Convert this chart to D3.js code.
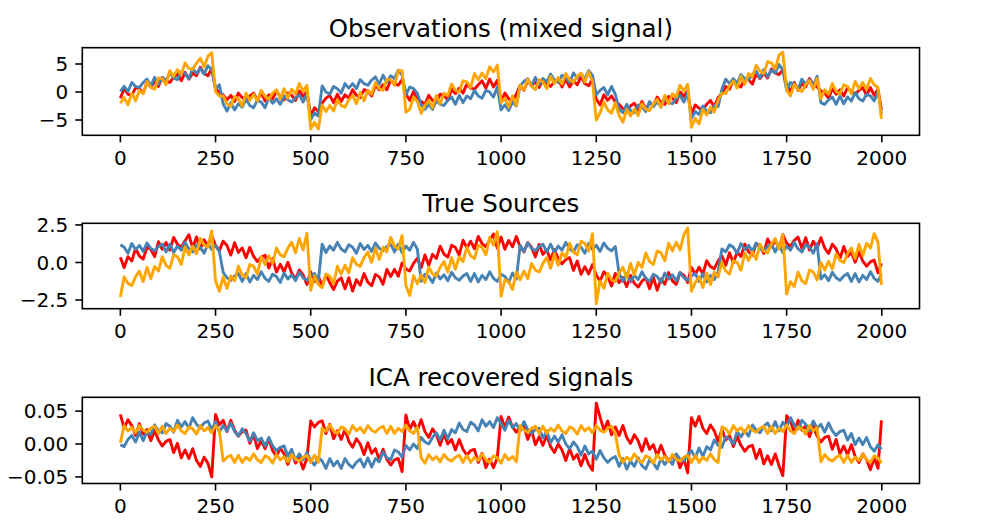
<!DOCTYPE html>
<html>
<head>
<meta charset="utf-8">
<script src="https://cdn.jsdelivr.net/npm/d3@7"></script>
<style>
  body { margin: 0; background: #fff; }
  svg text { font-family: "DejaVu Sans", sans-serif; fill: #000; }
</style>
</head>
<body>
<svg id="chart" width="1002" height="525"></svg>
<script>
// sample index of every stored point (one value per 10 samples, last one is 1999)
const sampleIndex = d3.range(0, 2000, 10).concat([1999]);
const xTicks = [0, 250, 500, 750, 1000, 1250, 1500, 1750, 2000];
const seriesColors = ["red", "steelblue", "orange"];
const panelTitles = ["Observations (mixed signal)", "True Sources", "ICA recovered signals"];

// Observations (mixed signal)
const obsRed = [
  -1.1, 0.6, -0.4, -0.6, 0.8, 0.6, -0.2, 1.7, 0.9, 1.9,
  1.0, 2.6, 2.0, 1.7, 2.6, 3.2, 2.0, 3.5, 2.3, 3.4,
  2.9, 4.4, 3.3, 2.9, 4.2, 0.7, -0.2, -0.5, -1.4, -0.6,
  -1.7, -0.2, -1.0, -1.4, -0.7, -0.2, -1.5, -0.1, -1.6, -0.5,
  -1.2, 0.2, -0.9, -1.4, -0.2, -0.6, -1.5, 0.2, -0.8, 0.0,
  -4.3, -2.8, -3.5, -2.0, -1.1, -0.6, -1.9, -0.4, -1.7, -0.5,
  -1.1, 0.4, -0.6, -1.0, 0.4, 0.2, -0.7, 1.2, 0.4, 1.3,
  0.4, 2.1, 1.5, 1.2, 2.2, -0.3, -1.5, 0.1, -1.1, -1.7,
  -2.2, -0.6, -1.5, -1.8, -0.4, -0.6, -1.4, 0.5, -0.3, 0.7,
  -0.2, 1.4, 0.7, 0.5, 1.3, 2.0, 0.7, 2.3, 0.9, 2.1,
  -1.7, -0.2, -1.2, -1.7, -0.4, 1.2, 0.3, 2.0, 1.1, 1.8,
  0.8, 2.3, 1.5, 1.0, 1.8, 2.3, 0.9, 2.3, 0.9, 2.0,
  1.3, 2.7, 1.5, 1.1, 2.3, -1.3, -2.3, -0.5, -1.5, -0.7,
  -1.8, -2.2, -3.0, -3.3, -2.5, -2.0, -3.2, -1.7, -3.1, -1.9,
  -2.4, -0.9, -1.9, -2.2, -0.8, -1.1, -1.9, 0.0, -0.8, 0.1,
  -4.0, -2.3, -2.9, -3.1, -2.2, -1.5, -2.7, -1.0, -0.3, 1.0,
  0.5, 2.2, 1.2, 0.9, 2.4, 2.2, 1.4, 3.3, 2.4, 3.4,
  2.5, 4.1, 3.4, 3.1, 4.0, 1.4, 0.1, 1.7, 0.3, 1.5,
  0.9, 2.4, 1.3, 0.9, 0.2, -0.2, -1.1, 0.6, -0.4, 0.4,
  -0.7, 0.8, 0.0, -0.4, 0.3, 0.8, -0.6, 0.8, -0.6, 0.5,
  -3.2
];
const obsBlue = [
  0.1, 1.0, 0.1, 1.7, 1.0, 0.8, 1.7, 2.3, 1.1, 2.6,
  1.4, 2.6, 2.0, 3.5, 2.5, 2.2, 3.6, 3.3, 2.4, 4.2,
  3.3, 4.2, 3.2, 4.7, 4.0, 0.5, 1.3, -2.1, -3.4, -1.9,
  -3.2, -2.1, -2.7, -1.3, -2.4, -2.8, -1.5, -1.8, -2.8, -1.0,
  -2.0, -1.2, -2.2, -0.7, -1.4, -1.8, -1.0, -0.5, -1.8, -0.3,
  -4.9, -3.7, -4.3, 1.1, 0.0, -0.4, 1.0, 0.6, -0.2, 1.5,
  0.7, 1.5, 0.6, 2.2, 1.5, 1.2, 2.1, 2.7, 1.4, 3.0,
  1.7, 2.9, 2.4, 3.9, 3.0, -0.5, 0.9, 0.6, -0.2, -2.3,
  -3.1, -2.2, -3.1, -1.5, -2.2, -2.4, -1.5, -0.9, -2.2, -0.6,
  -1.9, -0.7, -1.2, 0.3, -0.7, -1.1, 0.3, 0.0, -0.9, 0.9,
  -3.2, -2.3, -3.3, -1.8, -2.5, 1.1, 1.9, 2.4, 1.1, 2.6,
  1.3, 2.4, 1.8, 3.2, 2.1, 1.7, 3.0, 2.6, 1.7, 3.4,
  2.5, 3.3, 2.3, 3.8, 3.0, -0.5, 0.3, 0.8, -0.5, 1.0,
  -0.4, -3.1, -3.7, -2.2, -3.3, -3.7, -2.3, -2.6, -3.5, -1.7,
  -2.6, -1.7, -2.7, -1.1, -1.8, -2.1, -1.2, -0.6, -1.8, -0.2,
  -4.7, -3.5, -4.0, -2.5, -3.4, -3.7, -2.4, -2.6, 0.5, 2.3,
  1.5, 2.4, 1.5, 3.1, 2.4, 2.2, 3.1, 3.7, 2.5, 4.0,
  2.7, 3.9, 3.4, 4.9, 3.9, 0.3, 1.7, 1.4, 0.5, 2.3,
  1.4, 2.2, 1.2, 2.8, -1.9, -2.2, -1.4, -0.9, -2.2, -0.7,
  -2.1, -0.9, -1.6, -0.1, -1.2, -1.6, -0.4, -0.7, -1.6, 0.1,
  -3.9
];
const obsOrange = [
  -2.0, -1.0, -2.3, -0.2, -1.6, 0.3, -0.3, 1.9, 0.8, 0.5,
  2.5, 2.4, 1.3, 3.8, 2.8, 4.0, 3.1, 5.2, 4.2, 4.0,
  5.2, 6.0, 4.5, 6.4, 7.0, 0.1, -0.7, -0.7, -2.1, -2.6,
  -0.8, -1.2, -2.5, -0.2, -1.5, -0.4, -1.6, 0.3, -0.8, -1.3,
  -0.2, 0.4, -1.2, 0.6, -1.1, 0.5, -0.4, 1.5, 0.1, 1.2,
  -6.6, -5.4, -6.6, -2.3, -3.5, -2.4, -3.4, -1.4, -2.4, -2.7,
  -1.4, -0.6, -2.1, -0.1, -1.6, 0.3, -0.4, 1.7, 0.6, 0.3,
  2.3, 2.2, 1.2, 3.8, 3.8, -3.6, -3.1, -0.9, -1.7, -3.8,
  -2.4, -1.5, -2.8, -0.6, -2.1, -0.2, -0.7, 1.4, 0.3, 0.0,
  2.0, 1.8, 0.8, 3.3, 2.2, 3.4, 2.4, 4.5, 3.6, 4.8,
  -1.9, -1.1, -2.7, -0.7, -2.4, 1.2, 0.4, 2.3, 1.0, 0.4,
  2.2, 1.8, 0.6, 2.8, 1.5, 2.6, 1.4, 3.3, 2.2, 1.7,
  2.8, 3.4, 1.8, 3.6, 1.9, -5.0, -3.7, -1.8, -3.2, -3.8,
  -1.9, -4.2, -5.4, -3.1, -4.3, -3.1, -4.2, -2.1, -3.1, -3.3,
  -2.1, -1.3, -2.7, -0.6, -2.1, -0.3, -0.9, 1.2, 0.1, 1.4,
  -6.3, -4.7, -5.7, -3.1, -4.1, -2.7, -3.6, -1.4, -0.2, -0.3,
  1.1, 2.0, 0.7, 2.8, 1.4, 3.3, 2.7, 4.8, 3.7, 3.3,
  5.4, 5.2, 4.1, 6.6, 7.1, 0.3, -0.7, 1.4, 0.4, 0.1,
  1.3, 2.0, 0.5, 2.4, -1.2, 0.4, -0.4, 1.5, 0.1, -0.4,
  1.3, 1.0, -0.3, 1.9, 0.6, 1.7, 0.5, 2.4, 1.3, 0.8,
  -4.8
];

// True Sources
const srcRed = [
  0.34, -0.34, 0.39, 0.10, 0.94, 0.42, 0.23, 1.01, 0.87, 0.39,
  1.38, 0.88, 1.33, 0.83, 1.67, 1.21, 1.01, 1.44, 1.85, 0.96,
  1.70, 0.90, 1.51, 1.09, 1.79, 1.13, 0.79, 1.42, 1.13, 0.49,
  1.32, 0.67, 0.97, 0.31, 1.01, 0.40, 0.06, 0.35, 0.48, -0.37,
  0.26, -0.64, -0.12, -0.62, 0.01, -0.71, -1.10, -0.50, -0.82, -1.47,
  -0.63, -1.27, -0.94, -1.55, -0.81, -1.35, -1.80, -1.24, -1.02, -1.76,
  -1.01, -1.90, -1.15, -1.51, -0.74, -1.31, -1.55, -0.80, -0.96, -1.45,
  -0.46, -0.94, -0.46, -0.92, -0.03, -0.44, -0.56, -0.06, 0.28, -0.35,
  0.50, -0.18, 0.54, 0.26, 1.09, 0.56, 0.36, 1.14, 0.99, 0.50,
  1.48, 0.97, 1.42, 0.91, 1.73, 1.26, 1.05, 1.46, 1.90, 0.96,
  1.69, 0.88, 1.47, 1.04, 1.73, 1.05, 0.70, 1.32, 1.02, 0.37,
  1.20, 0.54, 0.83, 0.17, 0.86, 0.24, -0.09, 0.20, 0.32, -0.53,
  0.10, -0.79, -0.28, -0.77, -0.14, -0.85, -1.23, -0.62, -0.93, -1.57,
  -0.73, -1.35, -1.01, -1.61, -0.86, -1.39, -1.64, -1.25, -1.02, -1.75,
  -0.99, -1.85, -1.10, -1.45, -0.67, -1.23, -1.46, -0.69, -0.85, -1.33,
  -0.33, -0.80, -0.32, -0.77, 0.12, -0.28, -0.41, 0.10, 0.44, -0.19,
  0.65, -0.03, 0.69, 0.40, 1.22, 0.70, 0.49, 1.26, 1.10, 0.60,
  1.57, 1.05, 1.48, 0.96, 1.85, 1.29, 1.07, 1.47, 1.69, 0.94,
  1.65, 0.83, 1.41, 0.97, 1.65, 0.96, 0.60, 1.22, 0.90, 0.25,
  1.06, 0.40, 0.68, 0.02, 0.70, 0.09, -0.25, 0.04, 0.16, -0.69,
  -0.05
];
const srcBlue = [
  1.18, 1.02, 0.62, 1.26, 0.86, 1.14, 0.74, 1.30, 0.94, 0.78,
  1.06, 1.22, 0.70, 1.22, 0.66, 1.10, 0.82, 1.34, 0.90, 0.70,
  1.18, 1.02, 0.62, 1.26, 0.86, 1.14, 0.74,
  -0.66, -1.02, -1.18, -0.90, -0.74, -1.26, -0.74, -1.30, -0.86, -1.14,
  -0.62, -1.06, -1.26, -0.78, -0.94, -1.34, -0.70, -1.10, -0.82, -1.22,
  -0.66, -1.02, -1.18, -0.90, -0.74, -1.26,
  1.22, 0.66, 1.10, 0.82, 1.34, 0.90, 0.70, 1.18, 1.02, 0.62,
  1.26, 0.86, 1.14, 0.74, 1.30, 0.94, 0.78, 1.06, 1.22, 0.70,
  1.22, 0.66, 1.10, 0.82, 1.34, 0.90,
  -1.26, -0.78, -0.94, -1.34, -0.70, -1.10, -0.82, -1.22, -0.66, -1.02,
  -1.18, -0.90, -0.74, -1.26, -0.74, -1.30, -0.86, -1.14, -0.62, -1.06,
  -1.26, -0.78, -0.94, -1.34, -0.70, -1.10,
  1.14, 0.74, 1.30, 0.94, 0.78, 1.06, 1.22, 0.70, 1.22, 0.66,
  1.10, 0.82, 1.34, 0.90, 0.70, 1.18, 1.02, 0.62, 1.26, 0.86,
  1.14, 0.74, 1.30, 0.94, 0.78, 1.06,
  -0.74, -1.26, -0.74, -1.30, -0.86, -1.14, -0.62, -1.06, -1.26, -0.78,
  -0.94, -1.34, -0.70, -1.10, -0.82, -1.22, -0.66, -1.02, -1.18, -0.90,
  -0.74, -1.26, -0.74, -1.30, -0.86, -1.14, -0.62,
  0.90, 0.70, 1.18, 1.02, 0.62, 1.26, 0.86, 1.14, 0.74, 1.30,
  0.94, 0.78, 1.06, 1.22, 0.70, 1.22, 0.66, 1.10, 0.82, 1.34,
  0.90, 0.70, 1.18, 1.02, 0.62, 1.26,
  -1.10, -0.82, -1.22, -0.66, -1.02, -1.18, -0.90, -0.74, -1.26, -0.74,
  -1.30, -0.86, -1.14, -0.62, -1.06, -1.26, -0.78
];
const srcOrange = [
  -2.30, -0.96, -1.40, -1.54, -0.96, -0.58, -1.28, -0.32, -1.09, -0.26,
  -0.58, 0.39, -0.19, -0.39, 0.51, 0.38, -0.13, 1.03, 0.51, 1.09,
  0.58, 1.60, 1.16, 1.02, 2.10, -1.22, -1.92, -0.96, -1.73, -0.90,
  -1.22, -0.25, -0.83, -1.03, -0.13, -0.26, -0.77, 0.39, -0.13, 0.45,
  -0.06, 0.96, 0.52, 0.38, 0.96, 1.34, 0.64, 1.60, 0.83, 1.95,
  -1.86, -0.89, -1.47, -1.67, -0.77, -0.90, -1.41, -0.25, -0.77, -0.19,
  -0.70, 0.32, -0.12, -0.26, 0.32, 0.70, 0.00, 0.96, 0.19, 1.02,
  0.70, 1.67, 1.09, 0.89, 1.79, -1.54, -2.20, -0.89, -1.41, -0.83,
  -1.34, -0.32, -0.76, -0.90, -0.32, 0.06, -0.64, 0.32, -0.45, 0.38,
  0.06, 1.03, 0.45, 0.25, 1.15, 1.02, 0.51, 1.67, 1.15, 2.05,
  -2.25, -1.15, -1.28, -1.80, -0.64, -1.15, -0.57, -1.08, -0.07, -0.51,
  -0.64, -0.06, 0.32, -0.39, 0.57, -0.19, 0.64, 0.32, 1.28, 0.70,
  0.51, 1.41, 1.28, 0.76, 1.92, -2.75, -1.21, -1.72, -0.71, -1.15,
  -1.28, -0.70, -0.32, -1.03, -0.07, -0.83, 0.00, -0.32, 0.64, 0.06,
  -0.13, 0.77, 0.64, 0.12, 1.28, 0.77, 1.35, 0.84, 1.85, 2.30,
  -1.92, -1.34, -0.96, -1.67, -0.71, -1.47, -0.64, -0.96, 0.00, -0.58,
  -0.77, 0.13, 0.00, -0.52, 0.64, 0.13, 0.71, 0.20, 1.21, 0.77,
  0.64, 1.22, 1.60, 0.89, 1.85, -2.11, -1.28, -1.60, -0.64, -1.22,
  -1.41, -0.51, -0.64, -1.16, 0.00, -0.51, 0.07, -0.44, 0.57, 0.13,
  0.00, 0.58, 0.96, 0.25, 1.21, 0.45, 1.28, 0.96, 1.92, 1.34,
  -1.50
];

// ICA recovered signals
const icaRed = [
  0.045, 0.024, 0.037, 0.028, 0.013, 0.031, 0.015, 0.022, 0.005, 0.021,
  0.006, -0.003, 0.004, 0.007, -0.013, 0.001, -0.021, -0.009, -0.022, -0.007,
  -0.025, -0.034, -0.020, -0.029, -0.050, 0.045, 0.029, 0.036, 0.019, 0.036,
  0.021, 0.012, 0.019, 0.021, 0.001, 0.015, -0.007, 0.005, -0.007, 0.008,
  -0.010, -0.019, -0.006, -0.015, -0.031, -0.013, -0.029, -0.021, -0.038, -0.022,
  0.035, 0.026, 0.033, 0.035, 0.016, 0.030, 0.008, 0.020, 0.007, 0.022,
  0.004, -0.005, 0.008, 0.000, -0.016, 0.002, -0.014, -0.007, -0.024, -0.008,
  -0.023, -0.032, -0.024, -0.022, -0.042, 0.044, 0.022, 0.034, 0.021, 0.037,
  0.019, 0.010, 0.023, 0.014, -0.002, 0.016, 0.000, 0.007, -0.009, 0.007,
  -0.008, -0.017, -0.010, -0.008, -0.028, -0.014, -0.036, -0.023, -0.036, -0.021,
  0.042, 0.025, 0.041, 0.026, 0.018, 0.025, 0.027, 0.007, 0.021, -0.001,
  0.011, -0.002, 0.013, -0.004, -0.013, 0.000, -0.009, -0.025, -0.007, -0.023,
  -0.016, -0.033, -0.016, -0.031, -0.040, 0.062, 0.041, 0.021, 0.035, 0.014,
  0.026, 0.013, 0.028, 0.010, 0.001, 0.014, 0.005, -0.011, 0.008, -0.008,
  -0.001, -0.018, -0.002, -0.017, -0.026, -0.019, -0.017, -0.036, -0.022, -0.044,
  0.040, 0.027, 0.042, 0.024, 0.016, 0.029, 0.020, 0.004, 0.022, 0.006,
  0.013, -0.004, 0.012, -0.002, -0.011, -0.004, -0.002, -0.022, -0.008, -0.030,
  -0.018, -0.031, -0.015, -0.033, -0.048, 0.043, 0.034, 0.018, 0.036, 0.021,
  0.028, 0.011, 0.027, 0.012, 0.003, 0.010, 0.012, -0.008, 0.007, -0.015,
  -0.003, -0.016, -0.001, -0.019, -0.028, -0.015, -0.024, -0.039, -0.021, -0.037,
  0.036
];
const icaBlue = [
  -0.001, -0.004, 0.007, 0.013, 0.003, 0.018, 0.005, 0.019, 0.014, 0.029,
  0.020, 0.017, 0.031, 0.027, 0.018, 0.036, 0.026, 0.034, 0.024, 0.040,
  0.030, 0.024, 0.032, 0.035, 0.022, 0.034, 0.018, 0.028, 0.020, 0.032,
  0.019, 0.012, 0.023, 0.016, 0.004, 0.017, 0.005, 0.009, -0.003, 0.010,
  -0.003, -0.010, -0.005, -0.003, -0.018, -0.008, -0.025, -0.015, -0.024, -0.013,
  -0.025, -0.032, -0.020, -0.026, -0.037, -0.022, -0.033, -0.026, -0.037, -0.022,
  -0.031, -0.036, -0.028, -0.023, -0.035, -0.021, -0.035, -0.022, -0.027, -0.012,
  -0.021, -0.024, -0.009, -0.012, -0.020, -0.002, -0.009, 0.000, -0.007, 0.010,
  0.003, 0.000, 0.010, 0.017, 0.006, 0.021, 0.008, 0.022, 0.017, 0.032,
  0.022, 0.019, 0.033, 0.029, 0.020, 0.037, 0.027, 0.034, 0.025, 0.040,
  0.031, 0.021, 0.036, 0.025, 0.031, 0.020, 0.034, 0.022, 0.016, 0.022,
  0.024, 0.009, 0.020, 0.002, 0.012, 0.003, 0.014, 0.000, -0.007, 0.003,
  -0.004, -0.017, -0.003, -0.015, -0.011, -0.023, -0.010, -0.021, -0.028, -0.022,
  -0.019, -0.034, -0.022, -0.038, -0.026, -0.034, -0.021, -0.033, -0.038, -0.024,
  -0.029, -0.038, -0.022, -0.031, -0.023, -0.031, -0.015, -0.023, -0.026, -0.016,
  -0.010, -0.021, -0.006, -0.019, -0.004, -0.009, 0.006, -0.002, -0.005, 0.011,
  0.008, 0.000, 0.019, 0.011, 0.020, 0.012, 0.029, 0.021, 0.017, 0.027,
  0.032, 0.020, 0.034, 0.020, 0.033, 0.026, 0.040, 0.029, 0.023, 0.036,
  0.030, 0.020, 0.035, 0.024, 0.030, 0.018, 0.032, 0.020, 0.013, 0.019,
  0.021, 0.006, 0.016, -0.001, 0.009, -0.001, 0.010, -0.004, -0.011, -0.001,
  -0.008
];
const icaOrange = [
  0.002, 0.028, 0.020, 0.025, 0.017, 0.028, 0.021, 0.018, 0.024, 0.027,
  0.016, 0.027, 0.016, 0.024, 0.019, 0.029, 0.020, 0.016, 0.026, 0.023,
  0.015, 0.028, 0.020, 0.025, 0.017, 0.028, 0.021,
  -0.026, -0.020, -0.017, -0.028, -0.017, -0.028, -0.020, -0.025, -0.015, -0.024,
  -0.028, -0.018, -0.021, -0.029, -0.016, -0.024, -0.019, -0.027, -0.016, -0.023,
  -0.026, -0.020, -0.017, -0.028, -0.017, -0.028,
  0.024, 0.019, 0.029, 0.020, 0.016, 0.026, 0.023, 0.015, 0.028, 0.020,
  0.025, 0.017, 0.028, 0.021, 0.018, 0.024, 0.027, 0.016, 0.027, 0.016,
  0.024, 0.019, 0.029, 0.020, 0.016, 0.026,
  -0.021, -0.029, -0.016, -0.024, -0.019, -0.027, -0.016, -0.023, -0.026, -0.020,
  -0.017, -0.028, -0.017, -0.028, -0.020, -0.025, -0.015, -0.024, -0.028, -0.018,
  -0.021, -0.029, -0.016, -0.024, -0.019, -0.027,
  0.028, 0.021, 0.018, 0.024, 0.027, 0.016, 0.027, 0.016, 0.024, 0.019,
  0.029, 0.020, 0.016, 0.026, 0.023, 0.015, 0.028, 0.020, 0.025, 0.017,
  0.028, 0.021, 0.018, 0.024, 0.027, 0.016,
  -0.017, -0.028, -0.020, -0.025, -0.015, -0.024, -0.028, -0.018, -0.021, -0.029,
  -0.016, -0.024, -0.019, -0.027, -0.016, -0.023, -0.026, -0.020, -0.017, -0.028,
  -0.017, -0.028, -0.020, -0.025, -0.015, -0.024, -0.028,
  0.026, 0.023, 0.015, 0.028, 0.020, 0.025, 0.017, 0.028, 0.021, 0.018,
  0.024, 0.027, 0.016, 0.027, 0.016, 0.024, 0.019, 0.029, 0.020, 0.016,
  0.026, 0.023, 0.015, 0.028, 0.020, 0.025,
  -0.027, -0.016, -0.023, -0.026, -0.020, -0.017, -0.028, -0.017, -0.028, -0.020,
  -0.025, -0.015, -0.024, -0.028, -0.018, -0.021, -0.029
];

// y ticks of each panel
const obsTicks = [-5, 0, 5];
const obsTickLabels = ["\u22125", "0", "5"];
const srcTicks = [-2.5, 0, 2.5];
const srcTickLabels = ["\u22122.5", "0.0", "2.5"];
const icaTicks = [-0.05, 0, 0.05];
const icaTickLabels = ["\u22120.05", "0.00", "0.05"];

const svg = d3.select("#chart");
svg.append("rect").attr("width", 1002).attr("height", 525).attr("fill", "#fff");

const plotLeft = 82.3, plotRight = 919.5;
const tickLen = 7, tickPad = 7;
const tickFont = 20, titleFont = 24.5;

const x = d3.scaleLinear().domain([-99.95, 2098.95]).range([plotLeft, plotRight]);

function drawPanel(i, top, bottom, yDomain, series, yTicks, yTickLabels) {
    const y = d3.scaleLinear().domain(yDomain).range([bottom, top]);
    const g = svg.append("g");

    g.append("clipPath").attr("id", "clip" + i)
        .append("rect")
        .attr("x", plotLeft).attr("y", top)
        .attr("width", plotRight - plotLeft).attr("height", bottom - top);

    const line = d3.line()
        .x((d, j) => x(sampleIndex[j]))
        .y(d => y(d));

    series.forEach((values, s) => {
        g.append("path")
            .datum(values)
            .attr("clip-path", `url(#clip${i})`)
            .attr("d", line)
            .attr("fill", "none")
            .attr("stroke", seriesColors[s])
            .attr("stroke-width", 2.9)
            .attr("stroke-linejoin", "round");
    });

    // frame
    g.append("rect")
        .attr("x", plotLeft).attr("y", top)
        .attr("width", plotRight - plotLeft).attr("height", bottom - top)
        .attr("fill", "none")
        .attr("stroke", "#000")
        .attr("stroke-width", 1.6);

    // x ticks
    xTicks.forEach(t => {
        g.append("line")
            .attr("x1", x(t)).attr("x2", x(t))
            .attr("y1", bottom).attr("y2", bottom + tickLen)
            .attr("stroke", "#000").attr("stroke-width", 1.6);
        g.append("text")
            .attr("x", x(t))
            .attr("y", bottom + tickLen + tickPad + 15.5)
            .attr("text-anchor", "middle")
            .style("font-size", tickFont + "px")
            .text(t);
    });

    // y ticks
    yTicks.forEach((t, k) => {
        g.append("line")
            .attr("x1", plotLeft - tickLen).attr("x2", plotLeft)
            .attr("y1", y(t)).attr("y2", y(t))
            .attr("stroke", "#000").attr("stroke-width", 1.6);
        g.append("text")
            .attr("x", plotLeft - tickLen - tickPad)
            .attr("y", y(t) + 7.2)
            .attr("text-anchor", "end")
            .style("font-size", tickFont + "px")
            .text(yTickLabels[k]);
    });

    g.append("text")
        .attr("x", (plotLeft + plotRight) / 2)
        .attr("y", top - 11)
        .attr("text-anchor", "middle")
        .style("font-size", titleFont + "px")
        .text(panelTitles[i]);
}

drawPanel(0, 47.7, 135.3, [-7.73, 7.91], [obsRed, obsBlue, obsOrange], obsTicks, obsTickLabels);
drawPanel(1, 223.3, 308.7, [-3.08, 2.61], [srcRed, srcBlue, srcOrange], srcTicks, srcTickLabels);
drawPanel(2, 397.3, 483.5, [-0.060, 0.071], [icaRed, icaBlue, icaOrange], icaTicks, icaTickLabels);
</script>
</body>
</html>
